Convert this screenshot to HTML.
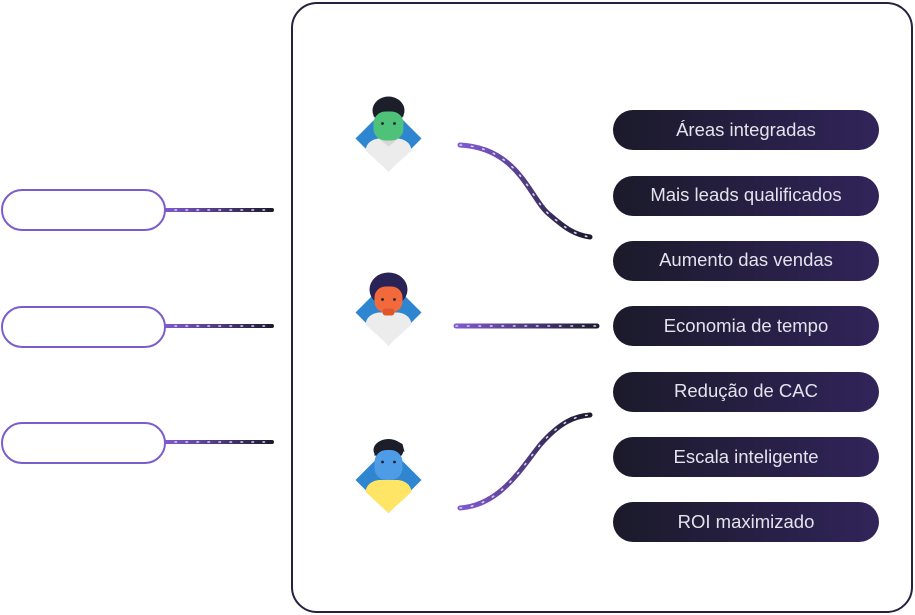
<!DOCTYPE html>
<html><head><meta charset="utf-8"><style>
html,body{margin:0;padding:0;background:#fff;width:915px;height:615px;overflow:hidden}
svg{display:block}
text{font-family:"Liberation Sans",sans-serif;font-size:18.5px;fill:#e4e3ec}
</style></head><body>
<svg width="915" height="615" viewBox="0 0 915 615" xmlns="http://www.w3.org/2000/svg">
<defs>
<linearGradient id="lg" gradientUnits="userSpaceOnUse" x1="165" x2="272" y1="0" y2="0"><stop offset="0" stop-color="#8059d0"/><stop offset="1" stop-color="#1c1b2c"/></linearGradient>
<linearGradient id="bg" x1="0" x2="1" y1="0" y2="0"><stop offset="0" stop-color="#1b1a2a"/><stop offset="1" stop-color="#31245a"/></linearGradient>
<linearGradient id="cg1" gradientUnits="userSpaceOnUse" x1="460" y1="145" x2="590" y2="237"><stop offset="0" stop-color="#8059d0"/><stop offset="1" stop-color="#1c1b2c"/></linearGradient>
<linearGradient id="cg2" gradientUnits="userSpaceOnUse" x1="456" y1="326" x2="597" y2="326"><stop offset="0" stop-color="#8059d0"/><stop offset="1" stop-color="#1c1b2c"/></linearGradient>
<linearGradient id="cg3" gradientUnits="userSpaceOnUse" x1="460" y1="508" x2="590" y2="415"><stop offset="0" stop-color="#8059d0"/><stop offset="1" stop-color="#1c1b2c"/></linearGradient>
</defs>
<rect x="292" y="3" width="620" height="609" rx="25" fill="none" stroke="#25213f" stroke-width="2"/>
<g stroke="url(#lg)" stroke-width="4" stroke-linecap="round">
<path d="M165 210 L272 210"/>
<path d="M165 326 L272 326"/>
<path d="M165 442 L272 442"/>
</g>
<g stroke="#d9d0f0" stroke-width="1.6" stroke-dasharray="1.5 9.5" stroke-linecap="round">
<line x1="175" y1="210" x2="270" y2="210"/>
<line x1="175" y1="326" x2="270" y2="326"/>
<line x1="175" y1="442" x2="270" y2="442"/>
</g>
<g fill="#fff" stroke="#7b5ccc" stroke-width="2">
<rect x="2" y="190" width="163" height="40" rx="20"/>
<rect x="2" y="307" width="163" height="40" rx="20"/>
<rect x="2" y="423" width="163" height="40" rx="20"/>
</g>
<g fill="none" stroke-width="5" stroke-linecap="round">
<path d="M460 145 C520 148 530 200 550 215 C565 228 575 235 590 237" stroke="url(#cg1)"/>
<path d="M456 326 L597 326" stroke="url(#cg2)"/>
<path d="M460 508 C500 505 520 470 540 445 C560 422 575 416 590 415" stroke="url(#cg3)"/>
</g>
<g fill="none" stroke="#d9d0f0" stroke-width="1.6" stroke-dasharray="1.5 10" stroke-linecap="round">
<path d="M460 145 C520 148 530 200 550 215 C565 228 575 235 590 237"/>
<path d="M456 326 L597 326"/>
<path d="M460 508 C500 505 520 470 540 445 C560 422 575 416 590 415"/>
</g>
<!-- avatar 1 -->
<g transform="translate(388.5,138.5)">
<polygon points="0,-33 33,0 0,33 -33,0" fill="#2f86d0"/>
<path d="M-23,12 Q-22,2 -10,0 L10,0 Q22,2 23,12 L0,33 Z" fill="#ececec"/>
<path d="M-10,0 L0,8 L10,0 Z" fill="#d6d6d6"/>
<ellipse cx="0" cy="-28" rx="16" ry="14" fill="#1c1f2a"/>
<rect x="-15" y="-27" width="30" height="29" rx="12" fill="#4fc27a"/>
<path d="M-15,-22 Q0,-36 15,-22 L15,-30 Q0,-44 -15,-30 Z" fill="#1c1f2a"/>
<circle cx="-6" cy="-15" r="1.4" fill="#1c1f2a"/><circle cx="6" cy="-15" r="1.4" fill="#1c1f2a"/>
</g>
<!-- avatar 2 -->
<g transform="translate(388.5,312.5)">
<polygon points="0,-33 33,0 0,33 -33,0" fill="#2f86d0"/>
<path d="M-23,12 Q-22,2 -10,0 L10,0 Q22,2 23,12 L0,33 Z" fill="#ececec"/>
<ellipse cx="0" cy="-23" rx="19" ry="17" fill="#2a2356"/>
<rect x="-14" y="-26" width="28" height="26" rx="11" fill="#f26a3c"/>
<rect x="-6" y="-4" width="12" height="7" rx="3" fill="#e0562a"/>
<path d="M-14,-20 Q0,-36 16,-22 L16,-30 Q0,-44 -16,-28 Z" fill="#2a2356"/>
<circle cx="-6" cy="-13" r="1.4" fill="#1c1f2a"/><circle cx="6" cy="-13" r="1.4" fill="#1c1f2a"/>
</g>
<!-- avatar 3 -->
<g transform="translate(388.5,480)">
<polygon points="0,-33 33,0 0,33 -33,0" fill="#2f86d0"/>
<path d="M-23,12 Q-22,2 -10,0 L10,0 Q22,2 23,12 L0,33 Z" fill="#ffe566"/>
<ellipse cx="0" cy="-30" rx="15" ry="11" fill="#1c1f2a"/>
<rect x="-14" y="-30" width="28" height="30" rx="12" fill="#4e9be6"/>
<path d="M-14,-24 Q0,-38 16,-28 L14,-36 Q0,-44 -14,-32 Z" fill="#1c1f2a"/>
<circle cx="-6" cy="-18" r="1.4" fill="#1c1f2a"/><circle cx="6" cy="-18" r="1.4" fill="#1c1f2a"/>
</g>
<g fill="url(#bg)">
<rect x="613" y="110" width="266" height="40" rx="20"/>
<rect x="613" y="176" width="266" height="40" rx="20"/>
<rect x="613" y="241" width="266" height="40" rx="20"/>
<rect x="613" y="306" width="266" height="40" rx="20"/>
<rect x="613" y="372" width="266" height="40" rx="20"/>
<rect x="613" y="437" width="266" height="40" rx="20"/>
<rect x="613" y="502" width="266" height="40" rx="20"/>
</g>
<g text-anchor="middle">
<text x="746" y="136">Áreas integradas</text>
<text x="746" y="201">Mais leads qualificados</text>
<text x="746" y="266">Aumento das vendas</text>
<text x="746" y="332">Economia de tempo</text>
<text x="746" y="397">Redução de CAC</text>
<text x="746" y="463">Escala inteligente</text>
<text x="746" y="528">ROI maximizado</text>
</g>
</svg>
</body></html>
